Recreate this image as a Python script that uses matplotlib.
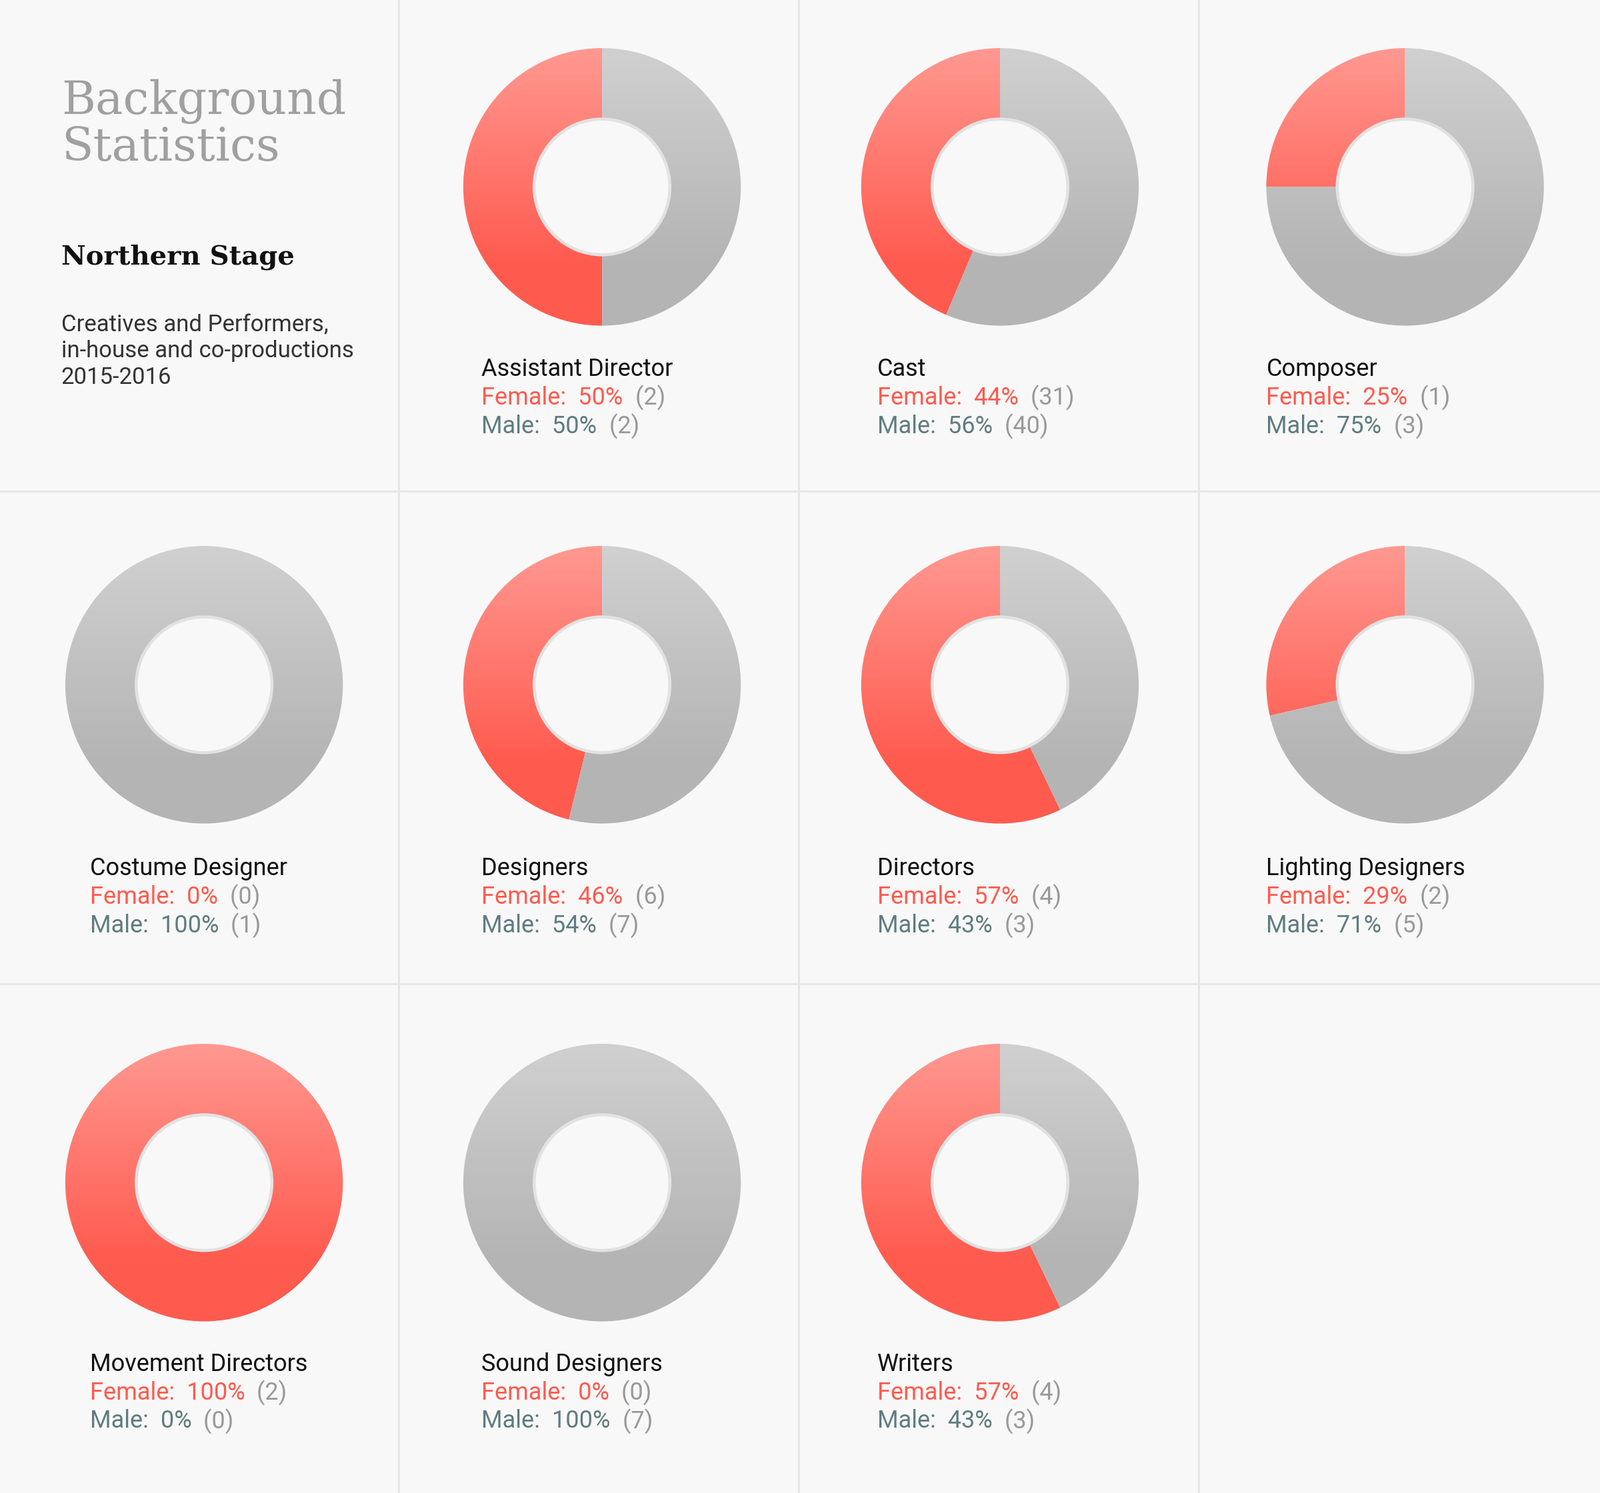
import matplotlib
matplotlib.use("Agg")
import matplotlib.pyplot as plt
import numpy as np
from matplotlib.patches import Wedge

categories = ["Assistant Director", "Cast", "Composer", "Costume Designer", "Designers",
              "Directors", "Lighting Designers", "Movement Directors", "Sound Designers", "Writers"]
female = [2, 31, 1, 0, 6, 4, 2, 2, 0, 4]
male = [2, 40, 3, 1, 7, 3, 5, 0, 7, 3]

W, H = 1568, 1463
RED, GRAY = "#FF5A4E", "#B4B4B4"
fig = plt.figure(figsize=(12, 11.2), dpi=200, facecolor="#F8F8F8")
ax = fig.add_axes([0, 0, 1, 1])
ax.set_xlim(0, W); ax.set_ylim(0, H); ax.set_aspect("equal"); ax.axis("off")
Y = lambda y: H - y

for x in (391, 783, 1175):
    ax.plot([x, x], [0, H], color="#E6E6E6", lw=1)
for y in (481, 964):
    ax.plot([0, W], [Y(y), Y(y)], color="#E6E6E6", lw=1)

ax.text(60, Y(122), "Background\nStatistics", fontsize=25, family="DejaVu Serif",
        color="#A0A0A0", va="center", linespacing=1.05, fontweight="light")
ax.text(60, Y(252), "Northern Stage", fontsize=14.5, family="DejaVu Serif",
        fontweight="bold", va="center", color="#111111")
ax.text(60, Y(344), "Creatives and Performers,\nin-house and co-productions\n2015-2016",
        fontsize=12.5, family="Roboto", color="#333333", va="center", linespacing=1.25)

slots = [(1, 0), (2, 0), (3, 0), (0, 1), (1, 1), (2, 1), (3, 1), (0, 2), (1, 2), (2, 2)]
cx_col = [200, 590, 980, 1377]
lx_col = [88, 472, 860, 1241]
cy_row = [183, 671, 1159]
ly_row = [362, 851, 1337]
R, RIN = 136, 66

grad = np.zeros((100, 2, 4))
a = np.clip(np.linspace(0.38, -0.1, 100), 0, None)
grad[..., :3] = 1.0
grad[..., 3] = a[:, None]

fig.canvas.draw()
renderer = fig.canvas.get_renderer()

def seq(x, y, parts):
    for s, c in parts:
        t = ax.text(x, y, s, color=c, fontsize=13, family="Roboto", va="center")
        bb = t.get_window_extent(renderer).transformed(ax.transData.inverted())
        x = bb.x1

for cat, f, m, (col, row) in zip(categories, female, male, slots):
    cx, cy = cx_col[col], Y(cy_row[row])
    tot = f + m
    wedges, _ = ax.pie([f, m], colors=[RED, GRAY], startangle=90, counterclock=True,
                       center=(cx, cy), radius=R, wedgeprops=dict(width=R - RIN, lw=0),
                       frame=True)
    ring = Wedge((cx, cy), R, 0, 360, width=R - RIN, transform=ax.transData)
    im = ax.imshow(grad, extent=(cx - R, cx + R, cy - R, cy + R), zorder=3, aspect="auto")
    im.set_clip_path(ring)
    ax.add_patch(Wedge((cx, cy), RIN + 2, 0, 360, width=3, color="#E2E2E2", lw=0, zorder=4))
    lx, ly = lx_col[col], ly_row[row]
    ax.text(lx, Y(ly), cat, fontsize=13, family="Roboto", color="#111111", va="center")
    seq(lx, Y(ly + 28), [(f"Female:  {round(100*f/tot)}%", RED), (f"  ({f})", "#999999")])
    seq(lx, Y(ly + 56), [(f"Male:  {round(100*m/tot)}%", "#5F7C80"), (f"  ({m})", "#999999")])

ax.set_xlim(0, W); ax.set_ylim(0, H); ax.set_aspect("equal"); ax.axis("off")
fig.savefig("out.png", dpi=200, facecolor=fig.get_facecolor())
